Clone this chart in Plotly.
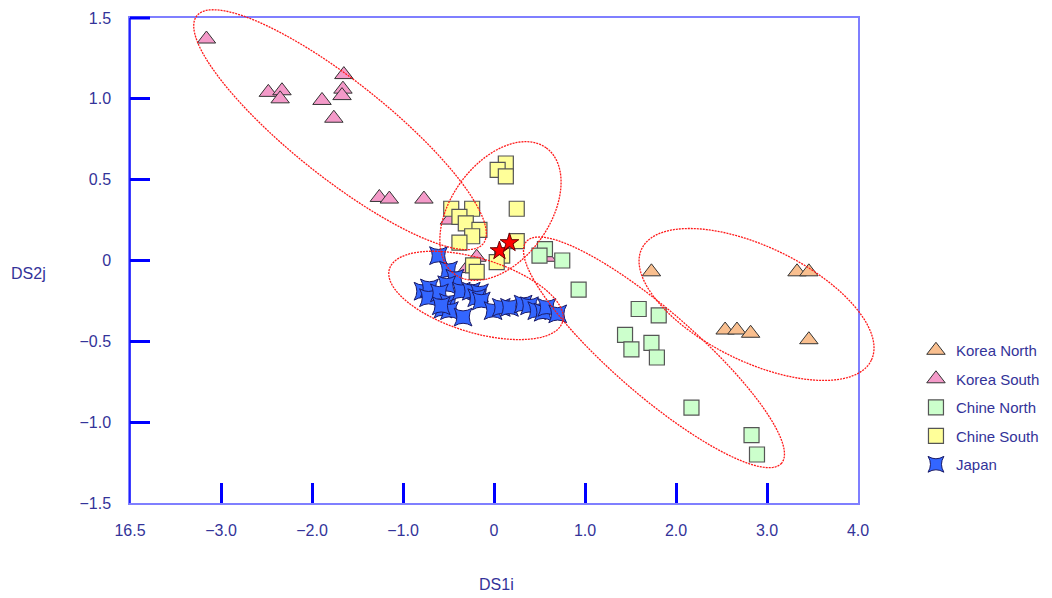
import numpy as np
import plotly.graph_objects as go

# ---------------- data ----------------
korea_north_x = [1.73, 3.33, 3.46, 2.54, 2.67, 2.82, 3.46]
korea_north_y = [-0.07, -0.07, -0.07, -0.43, -0.43, -0.45, -0.49]

korea_south_x = [-3.16, -2.48, -2.33, -2.35, -1.89, -1.65, -1.66, -1.67, -1.76,
                 -1.26, -1.15, -0.77, -0.49, -0.19, -0.30, 0.58]
korea_south_y = [1.37, 1.04, 1.05, 1.00, 0.99, 1.15, 1.06, 1.02, 0.88,
                 0.39, 0.38, 0.38, 0.25, 0.02, -0.05, 0.02]

chine_north_x = [0.56, 0.50, 0.75, 0.93, 1.59, 1.81, 1.44, 1.51, 1.73, 1.79, 2.17, 2.83, 2.89]
chine_north_y = [0.07, 0.03, 0.00, -0.18, -0.30, -0.34, -0.46, -0.55, -0.51, -0.60, -0.91, -1.08, -1.20]

chine_south_x = [0.13, 0.04, 0.13, 0.25, -0.47, -0.24, -0.38, -0.31, -0.16, -0.24,
                 -0.38, 0.25, 0.09, 0.03, -0.23, -0.19]
chine_south_y = [0.60, 0.56, 0.52, 0.32, 0.32, 0.32, 0.27, 0.23, 0.19, 0.15,
                 0.11, 0.12, 0.03, -0.01, -0.03, -0.07]

japan_x = [-0.61, -0.50, -0.43, -0.52, -0.78, -0.71, -0.72, -0.60, -0.50, -0.56,
           -0.49, -0.34, -0.36, -0.25, -0.16, -0.19, -0.14, -0.01, 0.08, 0.17,
           0.32, 0.39, 0.47, 0.54, 0.58, 0.70, -0.58]
japan_y = [0.03, -0.06, -0.11, -0.15, -0.19, -0.17, -0.23, -0.20, -0.26, -0.30,
           -0.31, -0.35, -0.19, -0.19, -0.20, -0.23, -0.25, -0.31, -0.29, -0.29,
           -0.27, -0.28, -0.31, -0.32, -0.29, -0.33, -0.28]

unknown_x = [0.06, 0.17]
unknown_y = [0.06, 0.11]

# confidence ellipses: centre (data), semi-axes (screen px), screen angle (deg)
ellipse_cx = [-1.692, 0.071, -0.198, 1.758, 2.885]
ellipse_cy = [0.809, 0.306, -0.216, -0.568, -0.272]
ellipse_a = [183, 78, 90.5, 169, 127.6]
ellipse_b = [48, 49, 37, 42, 57.4]
ellipse_ang = [38.5, -54, 17, 41, 25.9]

x_tickvals = [-4, -3, -2, -1, 0, 1, 2, 3, 4]
x_ticktext = ["16.5", "\u22123.0", "\u22122.0", "\u22121.0", "0", "1.0", "2.0", "3.0", "4.0"]
y_tickvals = [1.5, 1.0, 0.5, 0, -0.5, -1.0, -1.5]
y_ticktext = ["1.5", "1.0", "0.5", "0", "\u22120.5", "\u22121.0", "\u22121.5"]

# ---------------- layout geometry ----------------
# page body has an 8px default margin, so the figure is a little smaller
W, H = 1044, 590
ML, MR, MT, MB = 122, 194, 10, 95
XR = [-4, 4]
YR = [-1.5, 1.5]
PW = W - ML - MR
PH = H - MT - MB
PX_X = PW / (XR[1] - XR[0])
PX_Y = PH / (YR[1] - YR[0])

TXT = "#333399"
FONT = "Liberation Sans, Arial, sans-serif"
FS = 16

fig = go.Figure()

def add_series(name, xs, ys, symbol, color, size, lw=1, lc="#333333", angle=0):
    fig.add_trace(go.Scatter(
        x=xs, y=ys, mode="markers", name=name, legendgroup=name,
        marker=dict(symbol=symbol, size=size, color=color, angle=angle,
                    line=dict(color=lc, width=lw)),
        cliponaxis=False))

add_series("Korea North", korea_north_x, korea_north_y, "triangle-up", "#F9BF8F", 16)
add_series("Korea South", korea_south_x, korea_south_y, "triangle-up", "#F49AC9", 16)
add_series("Chine North", chine_north_x, chine_north_y, "square", "#CCFFCC", 15, 1.2, "#555555")
add_series("Chine South", chine_south_x, chine_south_y, "square", "#FFFF99", 15, 1.2, "#555555")
add_series("Japan", japan_x, japan_y, "star-diamond", "#3366FF", 18, 1, "#1a1a66", angle=45)

fig.add_trace(go.Scatter(
    x=unknown_x, y=unknown_y, mode="markers", showlegend=False,
    marker=dict(symbol="star", size=14, color="#FF0000", line=dict(color="#660000", width=1))))

# ellipses as paper-referenced paths so they are not clipped by the frame
shapes = []
t = np.linspace(0, 2 * np.pi, 241)
for cx, cy, a, b, ang in zip(ellipse_cx, ellipse_cy, ellipse_a, ellipse_b, ellipse_ang):
    th = np.radians(ang)
    dx = a * np.cos(t) * np.cos(th) - b * np.sin(t) * np.sin(th)
    dy = a * np.cos(t) * np.sin(th) + b * np.sin(t) * np.cos(th)
    xd = cx + dx / PX_X
    yd = cy - dy / PX_Y
    xp = (xd - XR[0]) / (XR[1] - XR[0])
    yp = (yd - YR[0]) / (YR[1] - YR[0])
    path = "M " + " L ".join(f"{u:.5f},{v:.5f}" for u, v in zip(xp, yp)) + " Z"
    shapes.append(dict(type="path", path=path, xref="paper", yref="paper",
                       line=dict(color="#FF1a1a", width=1.3, dash="2px,1px"), layer="above"))

# strong left axis line and top tick
shapes.append(dict(type="line", xref="paper", yref="paper", x0=0, x1=0, y0=0, y1=1,
                   line=dict(color="#0000FF", width=1.5)))
shapes.append(dict(type="line", xref="paper", yref="paper", x0=0, x1=20 / PW, y0=1, y1=1,
                   line=dict(color="#0000FF", width=3)))

fig.update_layout(
    width=W, height=H, autosize=False,
    margin=dict(l=ML, r=MR, t=MT, b=MB, autoexpand=False),
    paper_bgcolor="white", plot_bgcolor="white",
    font=dict(family=FONT, size=FS, color=TXT),
    shapes=shapes,
    showlegend=True,
    legend=dict(xref="container", yref="container", x=0.8697, y=0.4474,
                xanchor="left", yanchor="top",
                font=dict(family=FONT, size=15, color=TXT),
                tracegroupgap=6, traceorder="grouped",
                bgcolor="rgba(0,0,0,0)"),
    annotations=[
        dict(text="DS2j", x=-0.139, y=0.474, xref="paper", yref="paper",
             xanchor="center", yanchor="middle",
             showarrow=False, font=dict(family=FONT, size=FS, color=TXT)),
        dict(text="DS1i", x=0.503, y=-0.169, xref="paper", yref="paper",
             xanchor="center", yanchor="middle",
             showarrow=False, font=dict(family=FONT, size=FS, color=TXT)),
    ],
)

fig.update_xaxes(range=XR, tickvals=x_tickvals, ticktext=x_ticktext, automargin=False,
                 showgrid=False, zeroline=False, showline=True, linecolor="#7F7FFF",
                 linewidth=1.5, mirror=True, ticks="inside", ticklen=20, tickwidth=3,
                 tickcolor="#0000FF", ticklabelstandoff=12,
                 tickfont=dict(family=FONT, size=FS, color=TXT))
fig.update_yaxes(range=YR, tickvals=y_tickvals, ticktext=y_ticktext, automargin=False,
                 showgrid=False, zeroline=False, showline=True, linecolor="#7F7FFF",
                 linewidth=1.5, mirror=True, ticks="inside", ticklen=20, tickwidth=3,
                 tickcolor="#0000FF", ticklabelstandoff=14,
                 tickfont=dict(family=FONT, size=FS, color=TXT))

fig.write_html("out.html")
